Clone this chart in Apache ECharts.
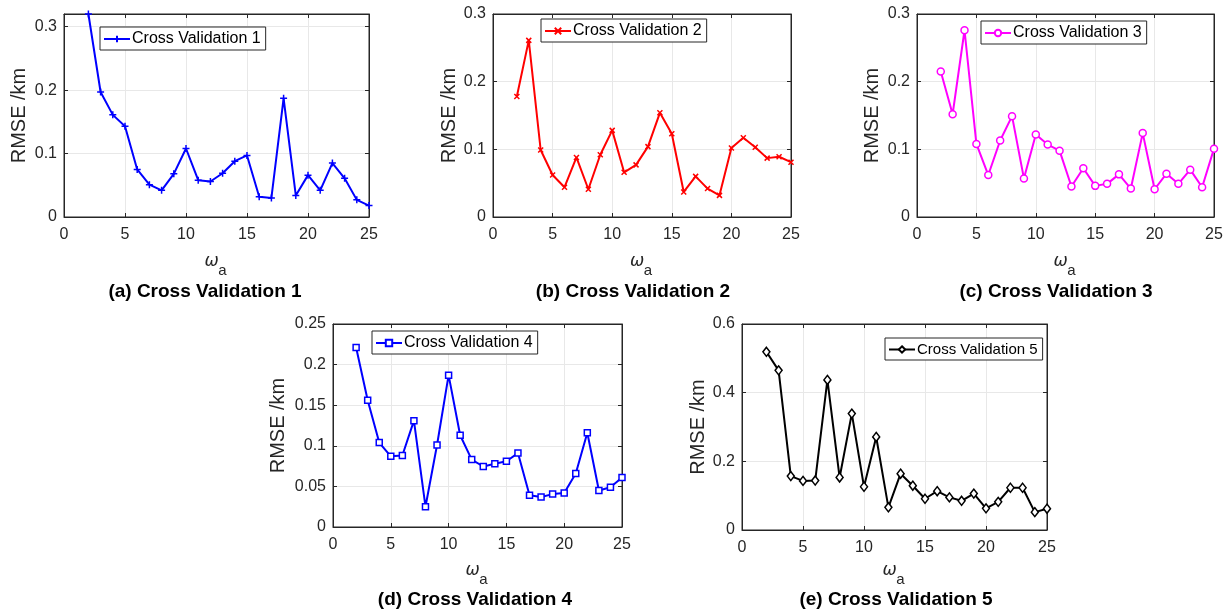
<!DOCTYPE html>
<html>
<head>
<meta charset="utf-8">
<title>Cross Validation RMSE</title>
<script src="https://cdn.jsdelivr.net/npm/echarts@6/dist/echarts.min.js"></script>
<style>
    html, body { margin: 0; padding: 0; background: #fff; }
    #main { width: 1232px; height: 612px; }
</style>
</head>
<body>
<div id="main"></div>
<script>
// 横轴 ω_a 取值
var omega = [2, 3, 4, 5, 6, 7, 8, 9, 10, 11, 12, 13, 14, 15, 16, 17, 18, 19, 20, 21, 22, 23, 24, 25];
// 各折交叉验证的 RMSE (km)
var cv1 = [0.320, 0.197, 0.161, 0.143, 0.075, 0.051, 0.042, 0.068, 0.108, 0.058, 0.056, 0.069, 0.088, 0.097, 0.032, 0.030, 0.187, 0.034, 0.066, 0.042, 0.085, 0.061, 0.027, 0.018];
var cv2 = [0.178, 0.261, 0.099, 0.062, 0.044, 0.088, 0.041, 0.092, 0.128, 0.066, 0.077, 0.104, 0.154, 0.123, 0.037, 0.060, 0.042, 0.032, 0.102, 0.117, 0.103, 0.087, 0.089, 0.081];
var cv3 = [0.215, 0.152, 0.276, 0.108, 0.062, 0.113, 0.149, 0.057, 0.122, 0.107, 0.098, 0.045, 0.072, 0.046, 0.049, 0.063, 0.042, 0.124, 0.041, 0.064, 0.049, 0.070, 0.044, 0.101];
var cv4 = [0.221, 0.156, 0.104, 0.087, 0.088, 0.131, 0.025, 0.101, 0.187, 0.113, 0.083, 0.0745, 0.078, 0.081, 0.091, 0.039, 0.037, 0.0405, 0.042, 0.066, 0.116, 0.045, 0.049, 0.061];
var cv5 = [0.519, 0.465, 0.157, 0.143, 0.144, 0.437, 0.153, 0.339, 0.126, 0.271, 0.066, 0.164, 0.129, 0.091, 0.113, 0.095, 0.085, 0.106, 0.063, 0.082, 0.123, 0.123, 0.052, 0.062];
// 图例名称与子图标题
var names = ["Cross Validation 1", "Cross Validation 2", "Cross Validation 3", "Cross Validation 4", "Cross Validation 5"];
var captions = ["(a) Cross Validation 1", "(b) Cross Validation 2", "(c) Cross Validation 3", "(d) Cross Validation 4", "(e) Cross Validation 5"];
// 纵轴上限与刻度间隔
var yMax = [0.32, 0.3, 0.3, 0.25, 0.6];
var yStep = [0.1, 0.1, 0.1, 0.05, 0.2];

var allData = [cv1, cv2, cv3, cv4, cv5];
var FONT = "'Liberation Sans', Arial, Helvetica, sans-serif";
var TXT = "#262626";

// 子图布局 (像素)
var panels = [
    { left: 64, top: 14, width: 305, height: 203, nameGap: 35, color: "#0000ff", symbol: "path://M5,0L5,10M0,5L10,5", size: 7,
      legend: { left: 100, top: 27, font: 16 }, capX: 205, omegaY: 262, capY: 292 },
    { left: 493, top: 14, width: 298, height: 203, nameGap: 34, color: "#ff0000", symbol: "path://M0,0L10,10M10,0L0,10", size: 5,
      legend: { left: 541, top: 19, font: 16 }, capX: 633, omegaY: 262, capY: 292 },
    { left: 917, top: 14, width: 297, height: 203, nameGap: 35, color: "#ff00ff", symbol: "circle", size: 7,
      legend: { left: 981, top: 21, font: 16 }, capX: 1056, omegaY: 262, capY: 292 },
    { left: 333, top: 324, width: 289, height: 203, nameGap: 45, color: "#0000ff", symbol: "rect", size: 6,
      legend: { left: 372, top: 331, font: 16 }, capX: 475, omegaY: 571, capY: 600 },
    { left: 742, top: 324, width: 305, height: 206, nameGap: 30, color: "#000000", symbol: "diamond", size: [7, 9],
      legend: { left: 885, top: 338, font: 15 }, capX: 896, omegaY: 571, capY: 600 }
];

var grids = [], xAxes = [], yAxes = [], series = [], legends = [], graphics = [];

panels.forEach(function (p, i) {
    grids.push({
        left: p.left, top: p.top, width: p.width, height: p.height,
        show: true, borderColor: TXT, borderWidth: 1, backgroundColor: "#fff"
    });
    // 底部横轴
    xAxes.push({
        gridIndex: i, type: "value", min: 0, max: 25, interval: 5,
        axisLine: { show: true, onZero: false, lineStyle: { color: TXT, width: 1 } },
        axisTick: { show: true, inside: true, length: 4, lineStyle: { color: TXT } },
        axisLabel: { color: TXT, fontSize: 16, fontFamily: FONT, margin: 10 },
        splitLine: { show: true, lineStyle: { color: "#e8e8e8", width: 1 } }
    });
    // 顶部横轴（只画刻度）
    xAxes.push({
        gridIndex: i, type: "value", position: "top", min: 0, max: 25, interval: 5,
        axisLine: { show: true, onZero: false, lineStyle: { color: TXT, width: 1 } },
        axisTick: { show: true, inside: true, length: 4, lineStyle: { color: TXT } },
        axisLabel: { show: false },
        splitLine: { show: false }
    });
    // 左侧纵轴
    yAxes.push({
        gridIndex: i, type: "value", min: 0, max: yMax[i], interval: yStep[i],
        name: "RMSE /km", nameLocation: "middle", nameGap: p.nameGap,
        nameTextStyle: { color: TXT, fontSize: 20, fontFamily: FONT },
        axisLine: { show: true, onZero: false, lineStyle: { color: TXT, width: 1 } },
        axisTick: { show: true, inside: true, length: 4, lineStyle: { color: TXT } },
        axisLabel: { color: TXT, fontSize: 16, fontFamily: FONT, margin: 7, showMaxLabel: yMax[i] % yStep[i] < 1e-9 || yStep[i] - (yMax[i] % yStep[i]) < 1e-9 },
        splitLine: { show: true, lineStyle: { color: "#e8e8e8", width: 1 } }
    });
    // 右侧纵轴（只画刻度）
    yAxes.push({
        gridIndex: i, type: "value", position: "right", min: 0, max: yMax[i], interval: yStep[i],
        axisLine: { show: true, onZero: false, lineStyle: { color: TXT, width: 1 } },
        axisTick: { show: true, inside: true, length: 4, lineStyle: { color: TXT } },
        axisLabel: { show: false },
        splitLine: { show: false }
    });

    var pts = omega.map(function (w, k) { return [w, allData[i][k]]; });
    var hollow = p.symbol.indexOf("path://") !== 0;
    series.push({
        name: names[i], type: "line",
        xAxisIndex: 2 * i, yAxisIndex: 2 * i,
        data: pts,
        symbol: p.symbol, symbolSize: p.size, showAllSymbol: true,
        color: p.color,
        lineStyle: { color: p.color, width: 2 },
        itemStyle: { color: hollow ? "#fff" : p.color, borderColor: p.color, borderWidth: 1.5 },
        emphasis: { disabled: true },
        z: 3
    });

    legends.push({
        data: [names[i]],
        left: p.legend.left, top: p.legend.top,
        orient: "horizontal",
        backgroundColor: "#fff",
        borderColor: TXT, borderWidth: 1, borderRadius: 0,
        padding: [4, 5, 3, 3],
        itemWidth: 26, itemHeight: 8, itemGap: 0,
        selectedMode: false,
        textStyle: { color: "#000", fontSize: p.legend.font, fontFamily: FONT, padding: [0, 0, 0, -3] }
    });

    // ω_a 横轴名称
    var cx = p.left + p.width / 2;
    graphics.push({
        type: "text", x: cx - 5, y: p.omegaY,
        style: { text: "ω", font: "italic 17px 'DejaVu Sans', sans-serif", fill: TXT, align: "center", verticalAlign: "middle" }
    });
    graphics.push({
        type: "text", x: cx + 6, y: p.omegaY + 9,
        style: { text: "a", font: "15px " + FONT, fill: TXT, align: "center", verticalAlign: "middle" }
    });
    // 子图标题
    graphics.push({
        type: "text", x: p.capX, y: p.capY,
        style: { text: captions[i], font: "bold 19px " + FONT, fill: "#000", align: "center", verticalAlign: "middle" }
    });
});

var myChart = echarts.init(document.getElementById("main"), null, { renderer: "canvas" });
myChart.setOption({
    animation: false,
    backgroundColor: "#fff",
    grid: grids,
    xAxis: xAxes,
    yAxis: yAxes,
    legend: legends,
    series: series,
    graphic: graphics
});
</script>
</body>
</html>
